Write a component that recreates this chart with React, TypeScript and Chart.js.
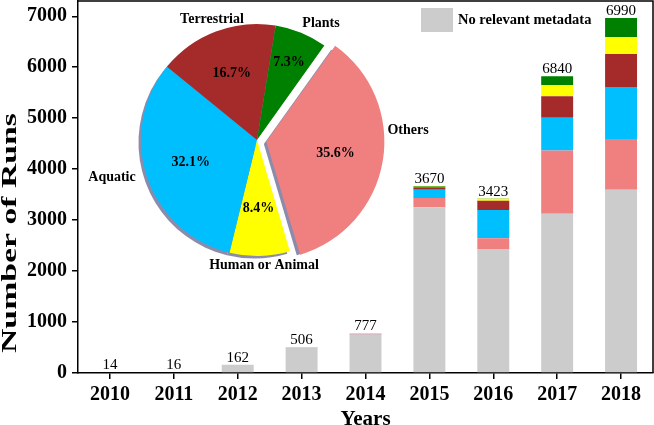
import React, { useEffect, useRef } from "react";
import { Chart, registerables } from "chart.js";

Chart.register(...registerables);

// ---------- data ----------
const years = ["2010", "2011", "2012", "2013", "2014", "2015", "2016", "2017", "2018"];
const noMetadata = [14, 16, 162, 496, 752, 3255, 2435, 3125, 3595];
const others = [0, 0, 0, 0, 6, 177, 210, 1243, 995];
const aquatic = [0, 0, 0, 0, 6, 163, 556, 642, 1021];
const terrestrial = [0, 0, 0, 0, 3, 52, 177, 419, 648];
const humanAnimal = [0, 0, 0, 6, 2, 6, 39, 224, 334];
const plants = [0, 0, 0, 4, 8, 17, 6, 169, 373];
const totalLabels = ["14", "16", "162", "506", "777", "3670", "3423", "6840", "6990"];
const yTickValues = [0, 1000, 2000, 3000, 4000, 5000, 6000, 7000];

const pieLabels = ["Others", "Human or Animal", "Aquatic", "Terrestrial", "Plants"];
const pieShares = [35.6, 8.4, 32.1, 16.7, 7.3];

// ---------- styles ----------
const FONT = "'Times New Roman', 'Liberation Serif', serif";
const C_GRAY = "#CCCCCC";
const C_OTHERS = "#F08080";
const C_AQUATIC = "#00BFFF";
const C_TERR = "#A52A2A";
const C_HUMAN = "#FFFF00";
const C_PLANTS = "#008000";
const pieColors = [C_OTHERS, C_HUMAN, C_AQUATIC, C_TERR, C_PLANTS];
const pieOffsets = [38, 0, 0, 0, 0];
const PCT_DIST = [70, 68, 70, 71, 84];
const OUTER_POS: [number, number][] = [
  [151, -10],
  [7, 125],
  [-145, 37],
  [-45, -121],
  [64, -117],
];

const framePlugin = {
  id: "frame",
  afterDraw(chart: any) {
    const { ctx, chartArea: a } = chart;
    ctx.save();
    ctx.strokeStyle = "#000";
    ctx.lineWidth = 1.5;
    ctx.beginPath();
    ctx.moveTo(a.left, a.top);
    ctx.lineTo(a.right, a.top);
    ctx.lineTo(a.right, a.bottom);
    ctx.stroke();
    ctx.restore();
  },
};

const totalsPlugin = {
  id: "totals",
  afterDatasetsDraw(chart: any) {
    const { ctx } = chart;
    const n = chart.data.datasets.length;
    const meta = chart.getDatasetMeta(n - 1);
    ctx.save();
    ctx.font = `15px ${FONT}`;
    ctx.fillStyle = "#000";
    ctx.textAlign = "center";
    ctx.textBaseline = "alphabetic";
    meta.data.forEach((el: any, i: number) => {
      let top = el.y;
      for (let d = 0; d < n; d++) {
        const e = chart.getDatasetMeta(d).data[i];
        if (e && e.y < top) top = e.y;
      }
      ctx.fillText(totalLabels[i], el.x, top - 3);
    });
    ctx.restore();
  },
};

const legendPlugin = {
  id: "legendBox",
  afterDraw(chart: any) {
    const { ctx } = chart;
    const ds = chart.data.datasets[0];
    ctx.save();
    ctx.fillStyle = ds.backgroundColor;
    ctx.fillRect(421, 8, 32, 24);
    ctx.fillStyle = "#000";
    ctx.font = `bold 14.5px ${FONT}`;
    ctx.textAlign = "left";
    ctx.textBaseline = "middle";
    ctx.fillText(ds.label, 458, 20.5);
    ctx.restore();
  },
};

const yTitlePlugin = {
  id: "yTitle",
  afterDraw(chart: any) {
    const { ctx } = chart;
    const text = "Number of Runs";
    ctx.save();
    ctx.font = `bold 22px ${FONT}`;
    ctx.fillStyle = "#000";
    const w = ctx.measureText(text).width;
    ctx.translate(16, 233);
    ctx.rotate(-Math.PI / 2);
    ctx.scale(240 / w, 1);
    ctx.textAlign = "center";
    ctx.textBaseline = "alphabetic";
    ctx.fillText(text, 0, 0);
    ctx.restore();
  },
};

const pieShadowPlugin = {
  id: "pieShadow",
  beforeDatasetsDraw(chart: any) {
    const { ctx } = chart;
    const meta = chart.getDatasetMeta(0);
    ctx.save();
    ctx.fillStyle = "rgba(110,110,150,0.8)";
    meta.data.forEach((arc: any, i: number) => {
      const { x, y, startAngle, endAngle, outerRadius } = arc;
      const off = (pieOffsets[i] || 0) / 4;
      const mid = (startAngle + endAngle) / 2;
      const cx = x + Math.cos(mid) * off - 2.5;
      const cy = y + Math.sin(mid) * off + 2.5;
      ctx.beginPath();
      ctx.moveTo(cx, cy);
      ctx.arc(cx, cy, outerRadius, startAngle, endAngle);
      ctx.closePath();
      ctx.fill();
    });
    ctx.restore();
  },
};

const pieTextPlugin = {
  id: "pieText",
  afterDatasetsDraw(chart: any) {
    const { ctx } = chart;
    const meta = chart.getDatasetMeta(0);
    ctx.save();
    ctx.fillStyle = "#000";
    ctx.font = `bold 14px ${FONT}`;
    ctx.textAlign = "center";
    ctx.textBaseline = "middle";
    meta.data.forEach((arc: any, i: number) => {
      const { x, y, startAngle, endAngle } = arc;
      const off = (pieOffsets[i] || 0) / 4;
      const mid = (startAngle + endAngle) / 2;
      const d = off + PCT_DIST[i];
      ctx.fillText(`${pieShares[i].toFixed(1)}%`, x + Math.cos(mid) * d, y + Math.sin(mid) * d);
      ctx.fillText(pieLabels[i], x + OUTER_POS[i][0], y + OUTER_POS[i][1]);
    });
    ctx.restore();
  },
};

export default function App() {
  const barRef = useRef<HTMLCanvasElement | null>(null);
  const pieRef = useRef<HTMLCanvasElement | null>(null);

  useEffect(() => {
    const tickFont = { family: FONT, size: 20, weight: "bold" as const };
    const bar = new Chart(barRef.current as HTMLCanvasElement, {
      type: "bar",
      data: {
        labels: years,
        datasets: [
          { label: "No relevant metadata", data: noMetadata, backgroundColor: C_GRAY },
          { label: "Others", data: others, backgroundColor: C_OTHERS },
          { label: "Aquatic", data: aquatic, backgroundColor: C_AQUATIC },
          { label: "Terrestrial", data: terrestrial, backgroundColor: C_TERR },
          { label: "Human or Animal", data: humanAnimal, backgroundColor: C_HUMAN },
          { label: "Plants", data: plants, backgroundColor: C_PLANTS },
        ],
      },
      options: {
        animation: false,
        responsive: false,
        devicePixelRatio: 1,
        layout: { padding: { top: 1, right: 1, left: 0, bottom: 0 } },
        datasets: { bar: { categoryPercentage: 0.5, barPercentage: 1, borderWidth: 0 } },
        plugins: { legend: { display: false }, tooltip: { enabled: false } },
        scales: {
          x: {
            stacked: true,
            grid: {
              display: true,
              offset: false,
              drawOnChartArea: false,
              drawTicks: true,
              tickLength: 6,
              color: "#000",
              lineWidth: 1.5,
            },
            border: { display: true, color: "#000", width: 1.5 },
            ticks: { color: "#000", font: tickFont, padding: 4, maxRotation: 0, autoSkip: false },
            title: {
              display: true,
              text: "Years",
              color: "#000",
              font: { family: FONT, size: 21, weight: "bold" },
              padding: { top: 0, bottom: -7 },
            },
            afterFit: (s: any) => {
              s.height = 52;
              s.paddingLeft = 0;
              s.paddingRight = 0;
            },
          },
          y: {
            stacked: true,
            min: 0,
            max: 7300,
            ticks: {
              color: "#000",
              font: tickFont,
              padding: 5,
              autoSkip: false,
              callback: (v: any) => String(v),
            },
            afterBuildTicks: (s: any) => {
              s.ticks = yTickValues.map((v) => ({ value: v }));
            },
            grid: {
              display: true,
              drawOnChartArea: false,
              drawTicks: true,
              tickLength: 6,
              color: "#000",
              lineWidth: 1.5,
            },
            border: { display: true, color: "#000", width: 1.5 },
            afterFit: (s: any) => {
              s.width = 78;
              s.paddingTop = 0;
              s.paddingBottom = 0;
            },
          },
        },
      } as any,
      plugins: [framePlugin, totalsPlugin, legendPlugin, yTitlePlugin],
    });

    const pie = new Chart(pieRef.current as HTMLCanvasElement, {
      type: "pie",
      data: {
        labels: pieLabels,
        datasets: [
          {
            data: pieShares,
            backgroundColor: pieColors,
            borderWidth: 0,
            offset: pieOffsets,
          },
        ],
      },
      options: {
        animation: false,
        responsive: false,
        devicePixelRatio: 1,
        rotation: 35.5,
        radius: 116,
        layout: { padding: 0 },
        plugins: { legend: { display: false }, tooltip: { enabled: false } },
      } as any,
      plugins: [pieShadowPlugin, pieTextPlugin],
    });

    return () => {
      bar.destroy();
      pie.destroy();
    };
  }, []);

  return (
    <div
      style={{
        position: "fixed",
        left: 0,
        top: 0,
        width: 654,
        height: 425,
        overflow: "hidden",
        background: "#fff",
      }}
    >
      <canvas ref={barRef} width={654} height={425} style={{ position: "absolute", left: 0, top: 0 }} />
      <canvas
        ref={pieRef}
        width={360}
        height={290}
        style={{ position: "absolute", left: 77, top: -5, pointerEvents: "none" }}
      />
    </div>
  );
}
